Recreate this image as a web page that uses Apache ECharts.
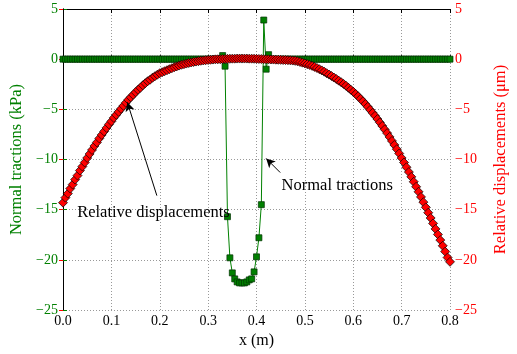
<!DOCTYPE html>
<html><head><meta charset="utf-8">
<script src="https://cdn.jsdelivr.net/npm/echarts@6/dist/echarts.min.js"></script>
<style>html,body{margin:0;padding:0;background:#fff}#c{width:517px;height:354px}</style>
</head><body><div id="c"></div>
<script>
// sampling step along x (m)
const xStep = 0.005;
const xTicks = ['0.0','0.1','0.2','0.3','0.4','0.5','0.6','0.7','0.8'];
// Normal tractions (kPa), one value per sample (x = i*0.005)
const tractions = [
 0,0,0,0,0,0,0,0,0,0, 0,0,0,0,0,0,0,0,0,0,
 0,0,0,0,0,0,0,0,0,0, 0,0,0,0,0,0,0,0,0,0,
 0,0,0,0,0,0,0,0,0,0, 0,0,0,0,0,0,0,0,0,0,
 0,0,0,0,0,0,0.36,-0.7,-15.7,-19.8,
 -21.3,-21.9,-22.2,-22.3,-22.3,-22.3,-22.2,-22.0,-21.9,-21.2,
 -19.7,-17.8,-14.5,3.9,-1.0,0.45,0,0,0,0,
 0,0,0,0,0,0,0,0,0,0, 0,0,0,0,0,0,0,0,0,0,
 0,0,0,0,0,0,0,0,0,0, 0,0,0,0,0,0,0,0,0,0,
 0,0,0,0,0,0,0,0,0,0, 0,0,0,0,0,0,0,0,0,0,
 0,0,0,0,0,0,0,0,0,0, 0
];
// Relative displacements (um), one value per sample
const displacements = [
 -14.3,-13.8,-13.4,-12.9,-12.5,-12.0,-11.6,-11.1,-10.7,-10.3,
 -9.85,-9.45,-9.05,-8.65,-8.3,-7.9,-7.55,-7.2,-6.85,-6.5,
 -6.2,-5.85,-5.55,-5.25,-4.95,-4.65,-4.35,-4.05,-3.8,-3.55,
 -3.3,-3.05,-2.85,-2.6,-2.4,-2.2,-2.05,-1.85,-1.7,-1.55,
 -1.4,-1.3,-1.2,-1.1,-1.0,-0.9,-0.8,-0.72,-0.64,-0.56,
 -0.5,-0.44,-0.38,-0.33,-0.28,-0.24,-0.2,-0.16,-0.13,-0.1,
 -0.08,-0.06,-0.04,-0.02,-0.01,0.0,0.01,0.02,0.03,0.04,
 0.05,0.05,0.06,0.06,0.06,0.06,0.06,0.05,0.05,0.04,
 0.03,0.02,0.01,0.0,-0.01,-0.02,-0.03,-0.04,-0.05,-0.06,
 -0.07,-0.08,-0.09,-0.1,-0.12,-0.14,-0.17,-0.22,-0.28,-0.35,
 -0.42,-0.5,-0.58,-0.67,-0.77,-0.88,-1.0,-1.12,-1.25,-1.4,
 -1.54,-1.68,-1.83,-1.98,-2.14,-2.3,-2.47,-2.65,-2.85,-3.05,
 -3.25,-3.47,-3.7,-3.95,-4.2,-4.47,-4.75,-5.05,-5.35,-5.65,
 -5.97,-6.3,-6.65,-7.0,-7.37,-7.75,-8.15,-8.55,-8.97,-9.4,
 -9.85,-10.3,-10.77,-11.25,-11.73,-12.22,-12.72,-13.22,-13.73,-14.25,
 -14.77,-15.3,-15.83,-16.37,-16.92,-17.47,-18.03,-18.6,-19.18,-19.77,
 -20.2
];
// annotations (data coordinates): text position, arrow tail, arrow head
const annDisp = {text:'Relative displacements', tx:0.187, ty:-15.3, sx:0.194, sy:-13.6, ex:0.133, ey:-4.3};
const annTrac = {text:'Normal tractions', tx:0.567, ty:-12.6, sx:0.449, sy:-11.3, ex:0.42, ey:-9.9};

const FONT = 'Liberation Serif';
const GREEN = '#008000', RED = '#ff0000';
const fmtMinus = v => (v < 0 ? '\u2212' + Math.abs(v) : String(v));

const xs = displacements.map((_, i) => +(i * xStep).toFixed(3));
const gData = xs.map((x, i) => [x, tractions[i]]);
const rData = xs.map((x, i) => [x, displacements[i]]);

function annSeries(a){
  return {
    markLine: {
      silent: true, animation: false,
      symbol: ['none','arrow'], symbolSize: [7, 9],
      lineStyle: {color:'#000', width:1, type:'solid'},
      label: {show:false},
      data: [[{coord:[a.sx, a.sy]}, {coord:[a.ex, a.ey]}]]
    },
    markPoint: {
      silent: true, animation: false,
      symbol: 'circle', symbolSize: 0,
      label: {show:true, position:'inside', formatter:a.text, color:'#000',
               fontFamily: FONT, fontSize: 16.5},
      data: [{coord:[a.tx, a.ty]}]
    }
  };
}

const chart = echarts.init(document.getElementById('c'), null, {renderer:'canvas'});
const axisFont = {fontFamily: FONT, fontSize: 14};
chart.setOption({
  animation: false,
  grid: {left: 49, right: 51, top: 9, bottom: 35, containLabel: false},
  xAxis: [{
    type: 'value', min: 0, max: 0.8, interval: 0.1, position: 'bottom',
    name: 'x (m)', nameLocation: 'middle', nameGap: 23,
    nameTextStyle: {fontFamily: FONT, fontSize: 16, color:'#000'},
    axisLine: {show:true, lineStyle:{color:'#000', width:1}},
    axisTick: {show:true, inside:true, length:4, lineStyle:{color:'#000'}},
    axisLabel: Object.assign({color:'#000', margin:4, formatter: v => xTicks[Math.round(v*10)]}, axisFont),
    splitLine: {show:true, lineStyle:{color:'#999', type:[1,2], width:1}}
  },{
    type: 'value', min: 0, max: 0.8, interval: 0.1, position: 'top',
    axisLine: {show:true, onZero:false, lineStyle:{color:'#000', width:1}},
    axisTick: {show:true, inside:true, length:4, lineStyle:{color:'#000'}},
    axisLabel: {show:false}, splitLine: {show:false}
  }],
  yAxis: [{
    type: 'value', min: -25, max: 5, interval: 5, position: 'left',
    name: 'Normal tractions (kPa)', nameLocation: 'middle', nameGap: 38,
    nameTextStyle: {fontFamily: FONT, fontSize: 16.5, color: GREEN},
    axisLine: {show:true, lineStyle:{color:'#000', width:1}},
    axisTick: {show:true, inside:true, length:4, lineStyle:{color:GREEN}},
    axisLabel: Object.assign({color:GREEN, margin:5, formatter: fmtMinus}, axisFont),
    splitLine: {show:true, lineStyle:{color:'#999', type:[1,2], width:1}}
  },{
    type: 'value', min: -25, max: 5, interval: 5, position: 'right',
    name: 'Relative displacements (\u03bcm)', nameLocation: 'middle', nameGap: 42,
    nameTextStyle: {fontFamily: FONT, fontSize: 16.5, color: RED},
    axisLine: {show:true, lineStyle:{color:'#000', width:1}},
    axisTick: {show:true, inside:true, length:4, lineStyle:{color:RED}},
    axisLabel: Object.assign({color:RED, margin:5, formatter: fmtMinus}, axisFont),
    splitLine: {show:false}
  }],
  series: [
    Object.assign({
      name: 'Normal tractions', type: 'line', xAxisIndex: 0, yAxisIndex: 0,
      data: gData, symbol: 'rect', symbolSize: 6, showAllSymbol: true,
      lineStyle: {color: GREEN, width: 1},
      itemStyle: {color: GREEN, borderColor: '#003000', borderWidth: 0.7},
      z: 3
    }, annSeries(annTrac)),
    Object.assign({
      name: 'Relative displacements', type: 'line', xAxisIndex: 0, yAxisIndex: 1,
      data: rData, symbol: 'diamond', symbolSize: 9, showAllSymbol: true,
      lineStyle: {width: 0, opacity: 0},
      itemStyle: {color: RED, borderColor: '#000', borderWidth: 0.7},
      z: 4
    }, annSeries(annDisp))
  ]
});
</script></body></html>
